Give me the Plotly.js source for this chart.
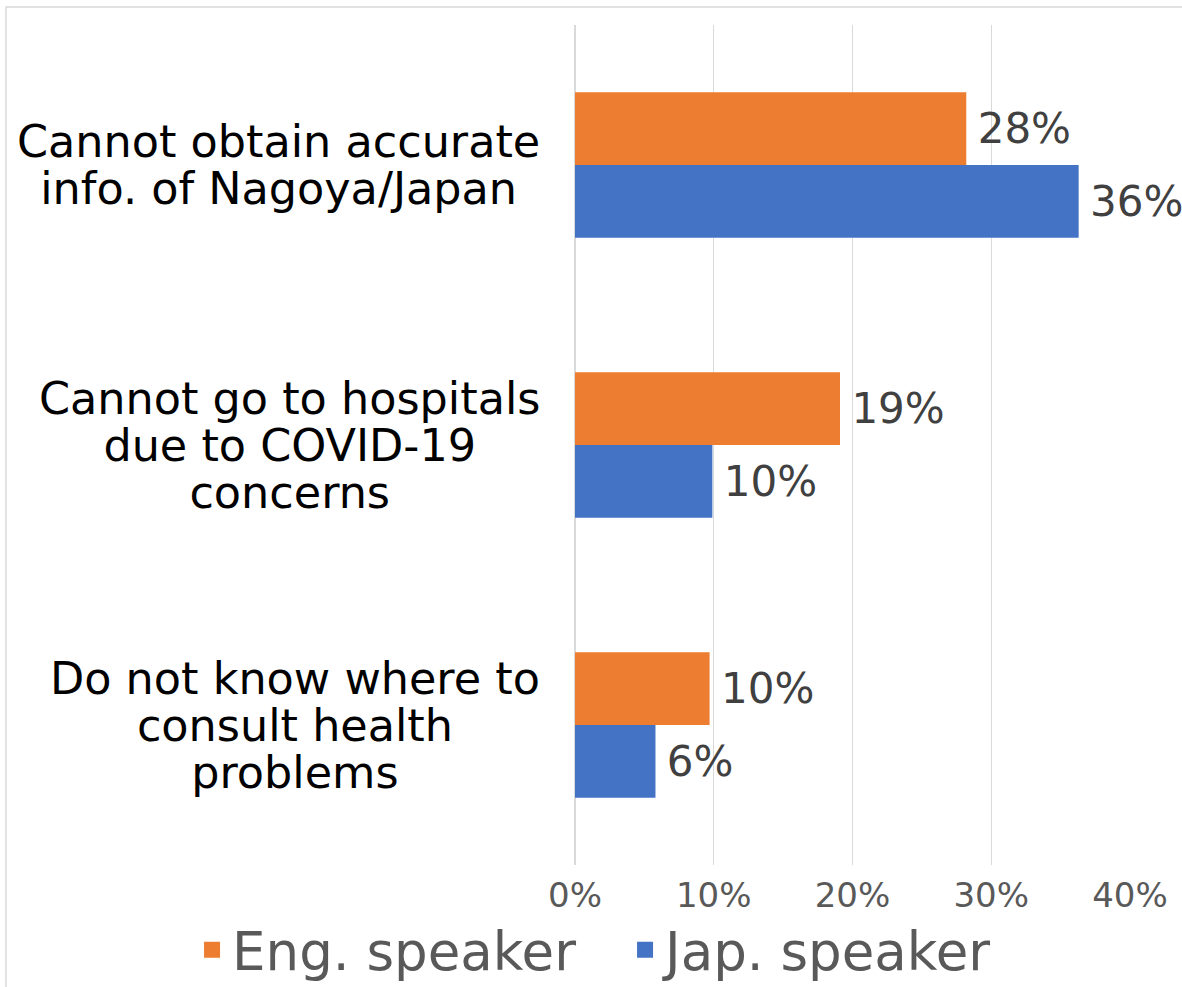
<!DOCTYPE html>
<html>
<head>
<meta charset="utf-8">
<script src="https://cdn.plot.ly/plotly-3.0.1.min.js"></script>
<style>html,body{margin:0;padding:0;background:#fff;}#chart{width:1182px;height:987px;}</style>
</head>
<body>
<div id="chart"></div>
<script>
const categories = ["Cannot obtain accurate info. of Nagoya/Japan", "Cannot go to hospitals due to COVID-19 concerns", "Do not know where to consult health problems"];
const categoryLines = [["Cannot obtain accurate", "info. of Nagoya/Japan"], ["Cannot go to hospitals", "due to COVID-19", "concerns"], ["Do not know where to", "consult health", "problems"]];
const seriesNames = ["Eng. speaker", "Jap. speaker"];
const engValues = [28.2, 19.1, 9.7];
const japValues = [36.3, 9.9, 5.8];
const xTickVals = [0, 10, 20, 30, 40];
const xTickLabels = ["0%", "10%", "20%", "30%", "40%"];

const FONT = "DejaVu Sans, Verdana, sans-serif";
const ORANGE = "#ED7D31";
const BLUE = "#4472C4";
const CAT_SIZE = 44.5;

function barTrace(name, values, color) {
  return {
    type: "bar",
    orientation: "h",
    name: name,
    y: categories,
    x: values,
    showlegend: false,
    marker: {color: color, line: {width: 0}},
    texttemplate: "\u2009%{x:.0f}%",
    textposition: "outside",
    cliponaxis: false,
    constraintext: "none",
    textangle: 0,
    textfont: {family: FONT, size: 42, color: "#404040"},
    hoverinfo: "skip"
  };
}
function legendTrace(name, color) {
  return {
    type: "scatter", mode: "markers", name: name,
    x: [null], y: [null], showlegend: true,
    marker: {symbol: "square", size: 20, color: color, line: {width: 0}},
    hoverinfo: "skip"
  };
}

const data = [
  barTrace(seriesNames[0], engValues, ORANGE),
  barTrace(seriesNames[1], japValues, BLUE),
  legendTrace(seriesNames[0], ORANGE),
  legendTrace(seriesNames[1], BLUE)
];

// measure text to centre the lines of each label block
const ctx = document.createElement("canvas").getContext("2d");
ctx.font = CAT_SIZE + "px 'DejaVu Sans'";
const annotations = [];
const LINE = 47;
categoryLines.forEach((lines, i) => {
  const n = lines.length;
  const w = Math.max.apply(null, lines.map(t => ctx.measureText(t).width)) + 2;
  lines.forEach((txt, j) => {
    annotations.push({
      xref: "paper", yref: "y",
      x: -0.058, y: categories[i],
      xanchor: "right", yanchor: "middle",
      width: w, align: "center",
      yshift: ((n - 1) / 2 - j) * LINE,
      text: txt, showarrow: false,
      font: {family: FONT, size: CAT_SIZE, color: "#000000"}
    });
  });
});

const layout = {
  width: 1182, height: 987,
  margin: {l: 575, r: 52, t: 25, b: 122, pad: 0, autoexpand: false},
  paper_bgcolor: "#ffffff", plot_bgcolor: "#ffffff",
  font: {family: FONT},
  barmode: "group",
  bargap: 0.48, bargroupgap: 0,
  showlegend: true,
  legend: {
    orientation: "h", xref: "paper", yref: "paper",
    x: -0.69, y: -0.101, xanchor: "left", yanchor: "middle",
    font: {family: FONT, size: 53, color: "#595959"},
    itemwidth: 30, entrywidth: 388, traceorder: "normal", bgcolor: "rgba(0,0,0,0)"
  },
  xaxis: {
    range: [0, 40], tickvals: xTickVals, ticktext: xTickLabels,
    showgrid: true, gridcolor: "#d9d9d9", gridwidth: 1.3,
    zeroline: true, zerolinecolor: "#d9d9d9", zerolinewidth: 1.3,
    showline: false, ticks: "", ticklabelstandoff: 7,
    tickfont: {family: FONT, size: 34, color: "#595959"},
    fixedrange: true
  },
  yaxis: {
    type: "category", categoryarray: categories, categoryorder: "array",
    range: [2.5, -0.5], showticklabels: false, showgrid: false,
    zeroline: false, showline: false, ticks: "", fixedrange: true
  },
  annotations: annotations,
  shapes: [{
    type: "rect", xref: "paper", yref: "paper", layer: "below",
    x0: -1.0252, x1: 1.3, y0: -0.3, y1: 1.0214,
    line: {color: "#d9d9d9", width: 1.5}, fillcolor: "rgba(0,0,0,0)"
  }],
  hovermode: false
};

Plotly.newPlot("chart", data, layout, {staticPlot: true, displayModeBar: false});
</script>
</body>
</html>
